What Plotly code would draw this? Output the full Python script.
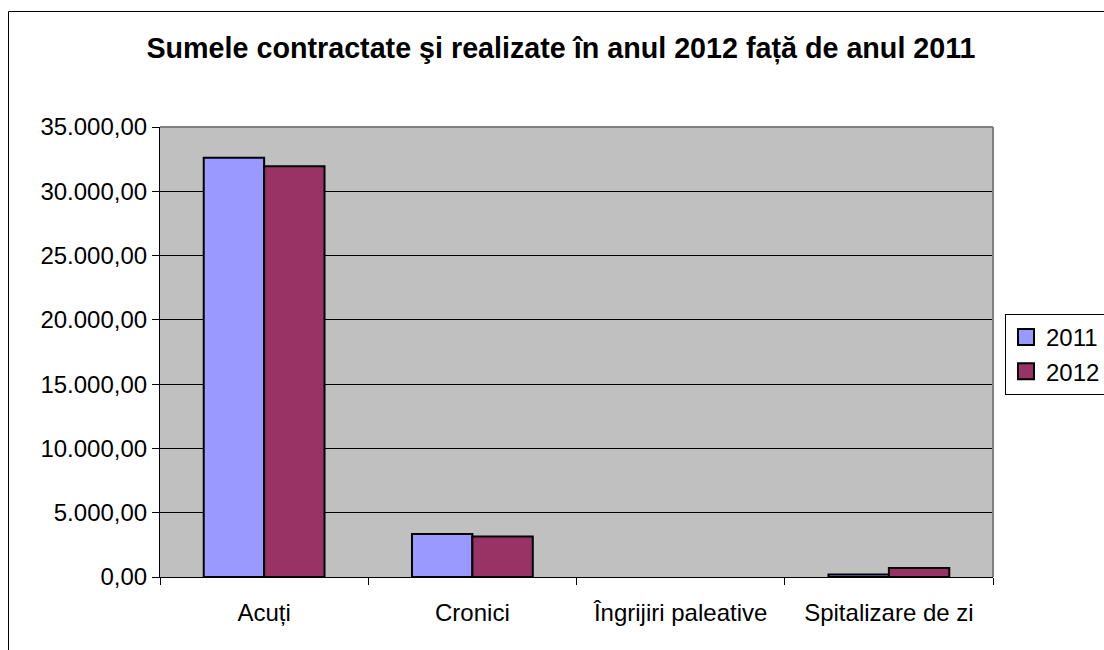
import plotly.graph_objects as go

categories = ["Acuți", "Cronici", "Îngrijiri paleative", "Spitalizare de zi"]
values_2011 = [32600, 3350, None, 200]
values_2012 = [31950, 3150, None, 700]
y_ticks = [0, 5000, 10000, 15000, 20000, 25000, 30000, 35000]
series_names = ["2011", "2012"]
series_colors = ["#9999FF", "#993366"]

FONT = "Liberation Sans, Arial, sans-serif"

fig = go.Figure()
for name, vals, col in zip(series_names, [values_2011, values_2012], series_colors):
    fig.add_trace(go.Bar(name=name, x=categories, y=vals, showlegend=False,
                         marker=dict(color=col, line=dict(color="black", width=2))))
# legend entries with larger square swatches
for name, col in zip(series_names, series_colors):
    fig.add_trace(go.Scatter(name=name, x=[None], y=[None], mode="markers",
                             marker=dict(symbol="square", size=16, color=col,
                                         line=dict(color="black", width=2)),
                             showlegend=True))

L, R, T, B = 160, 1104 - 993, 127, 650 - 577
W, H = 1104 - L - R, 650 - T - B

def px(xp):
    return (xp - L) / W

def py(yp):
    return (650 - B - yp) / H

fig.update_layout(
    width=1104, height=650,
    margin=dict(l=L, r=R, t=T, b=B, autoexpand=False),
    paper_bgcolor="white",
    plot_bgcolor="#C0C0C0",
    barmode="group",
    bargap=0.42,
    bargroupgap=0,
    separators=",.",
    font=dict(family=FONT, size=24, color="black"),
    title=dict(text="<b>Sumele contractate şi realizate în anul 2012 față de anul 2011</b>",
               x=561 / 1104, xanchor="center", xref="container",
               y=1 - 48 / 650, yanchor="middle",
               font=dict(family=FONT, size=28.7, color="black")),
    legend=dict(x=px(1005), y=py(314), xanchor="left", yanchor="top",
                bordercolor="black", borderwidth=1, bgcolor="white",
                font=dict(family=FONT, size=24), itemwidth=30,
                itemsizing="trace", tracegroupgap=0),
    showlegend=True,
    xaxis=dict(showline=True, linecolor="black", linewidth=1,
               ticks="outside", tickson="boundaries", ticklen=7, tickcolor="black",
               ticklabelstandoff=14, showgrid=False),
    yaxis=dict(range=[0, 35000], tickvals=y_ticks, tickformat=",.2f",
               showline=True, linecolor="black", linewidth=1,
               ticks="outside", ticklen=7, tickcolor="black",
               showgrid=True, gridcolor="black", gridwidth=1,
               zeroline=False),
    shapes=[
        dict(type="line", xref="paper", yref="paper", x0=0, x1=1, y0=1, y1=1,
             line=dict(color="#808080", width=2)),
        dict(type="line", xref="paper", yref="paper", x0=1, x1=1, y0=0, y1=1,
             line=dict(color="#808080", width=2)),
        dict(type="rect", xref="paper", yref="paper",
             x0=px(8.5), x1=px(1110), y0=py(11.5), y1=py(660),
             line=dict(color="black", width=1), fillcolor="rgba(0,0,0,0)"),
    ],
)

fig.write_html("out.html")
